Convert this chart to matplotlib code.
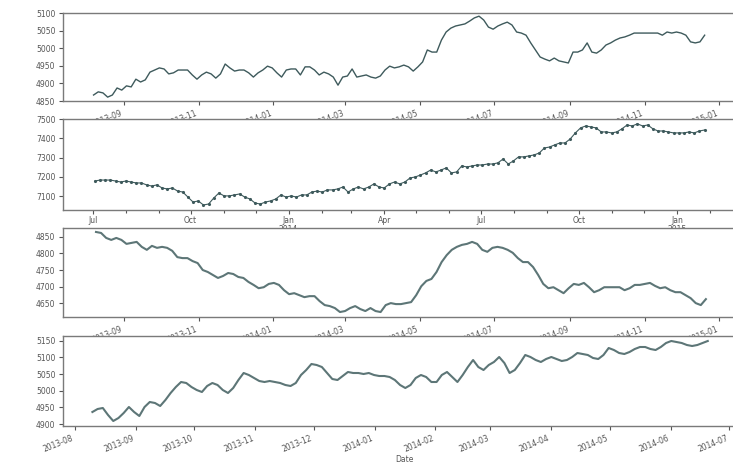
import numpy as np
import pandas as pd
import matplotlib
matplotlib.use("Agg")
import matplotlib.pyplot as plt
import matplotlib.dates as mdates
from matplotlib.ticker import FuncFormatter, MultipleLocator

# ---- series 1: daily index level ----
s1_start, s1_end = "2013-08-07", "2014-12-20"
s1_values = [
    4867, 4876, 4873, 4861, 4867, 4887, 4881, 4893, 4890, 4912,
    4904, 4910, 4932, 4938, 4944, 4941, 4927, 4930, 4938, 4938,
    4938, 4924, 4912, 4924, 4932, 4927, 4915, 4927, 4955, 4944,
    4935, 4938, 4938, 4930, 4918, 4930, 4938, 4949, 4944, 4930,
    4918, 4938, 4941, 4941, 4924, 4947, 4947, 4938, 4924, 4932,
    4927, 4918, 4895, 4918, 4921, 4941, 4918, 4921,
    4924, 4918, 4915, 4921, 4938, 4949, 4944, 4947, 4952, 4947,
    4935, 4947, 4961, 4995, 4989, 4989, 5023, 5046, 5057, 5063,
    5066, 5069, 5077, 5086, 5091, 5080, 5060, 5054, 5063, 5069,
    5074, 5066, 5046, 5043, 5037, 5015, 4995, 4975, 4969, 4964,
    4972, 4964, 4961, 4958, 4989, 4989, 4995, 5015, 4989, 4986,
    4995, 5009, 5015, 5023, 5029, 5032, 5037, 5043, 5043, 5043,
    5043, 5043, 5043, 5037, 5046, 5043, 5046, 5043, 5037, 5018,
    5015, 5018, 5037,
]

# ---- series 2: weekly level with markers ----
s2_start, s2_end = "2013-07-03", "2015-01-27"
s2_values = [
    7179, 7184, 7184, 7184, 7179, 7174, 7179, 7174, 7169, 7169,
    7159, 7153, 7159, 7143, 7138, 7143, 7127, 7122, 7096, 7070,
    7076, 7055, 7060, 7091, 7117, 7102, 7102, 7107, 7112, 7096,
    7086, 7065, 7060, 7070, 7076, 7086, 7107, 7096, 7102, 7096,
    7107, 7107, 7122, 7127, 7122, 7133, 7133, 7138, 7148, 7122,
    7138, 7148, 7138, 7148, 7164,
    7148, 7143, 7164, 7174, 7164, 7174, 7195, 7200, 7210, 7221,
    7236, 7226, 7236, 7247, 7221, 7226, 7257, 7252, 7257, 7262,
    7262, 7267, 7267, 7273, 7293, 7267, 7283, 7304, 7304, 7309,
    7314, 7324, 7350, 7355, 7366, 7376, 7376, 7397, 7428, 7454,
    7464, 7459, 7454, 7433, 7433, 7428, 7433, 7449, 7469, 7464,
    7475, 7464, 7469, 7449, 7438, 7438, 7433, 7428, 7428, 7428,
    7433, 7428, 7438, 7443,
]

# ---- series 3: smoothed level ----
s3_start, s3_end = "2013-08-09", "2014-12-21"
s3_values = [
    4865, 4862, 4847, 4841, 4847, 4841, 4829, 4832, 4835, 4820,
    4811, 4823, 4817, 4820, 4817, 4808, 4789, 4786, 4786, 4777,
    4771, 4750, 4744, 4735, 4726, 4732, 4741, 4738, 4729, 4726,
    4714, 4705, 4695, 4698, 4708, 4711, 4705, 4689, 4677, 4680,
    4674, 4668, 4671, 4671, 4656, 4644, 4641, 4635, 4623, 4626,
    4635, 4641, 4632, 4626,
    4635, 4626, 4623, 4644, 4650, 4647, 4647, 4650, 4653, 4674,
    4701, 4717, 4723, 4744, 4774, 4795, 4811, 4820, 4826, 4829,
    4835, 4829, 4811, 4805, 4817, 4820, 4817, 4811, 4802, 4786,
    4774, 4774, 4759, 4735, 4708, 4695, 4698, 4689, 4680, 4695,
    4708, 4705, 4711, 4698, 4683, 4689, 4698, 4698, 4698, 4698,
    4689, 4695, 4705, 4705, 4708, 4711, 4702, 4695, 4698, 4689,
    4683, 4683, 4674, 4665, 4650, 4644, 4662,
]

# ---- series 4: level over one year ----
s4_start, s4_end = "2013-08-10", "2014-06-20"
s4_values = [
    4936, 4945, 4948, 4927, 4909, 4918, 4933, 4951, 4936, 4924,
    4951, 4966, 4963, 4954, 4972, 4993, 5011, 5026, 5023, 5011,
    5002, 4996, 5014, 5023, 5017, 5002, 4993, 5008, 5032, 5053,
    5047, 5038, 5029, 5026, 5029, 5026, 5023, 5017, 5014, 5023,
    5047, 5062, 5080, 5077, 5071, 5053, 5035, 5032, 5044, 5056,
    5053, 5053, 5050,
    5053, 5047, 5044, 5044, 5041, 5032, 5017, 5008, 5017, 5038,
    5047, 5041, 5026, 5026, 5047, 5056, 5041, 5026, 5047, 5071,
    5092, 5071, 5062, 5077, 5086, 5101, 5083, 5053, 5062, 5083,
    5107, 5101, 5092, 5086, 5095, 5101, 5095, 5089, 5092, 5101,
    5113, 5110, 5107, 5098, 5095, 5107, 5128, 5122, 5113, 5110,
    5116, 5125, 5131, 5131, 5125, 5122, 5131, 5143, 5149, 5146,
    5143, 5137, 5134, 5137, 5143, 5149,
]


def dated(start, end, values):
    idx = pd.date_range(start, end, periods=len(values))
    return pd.Series(values, index=idx)


s1 = dated(s1_start, s1_end, s1_values)
s2 = dated(s2_start, s2_end, s2_values)
s3 = dated(s3_start, s3_end, s3_values)
s4 = dated(s4_start, s4_end, s4_values)

W_PX, H_PX = 733, 465
fig = plt.figure(figsize=(W_PX / 100, H_PX / 100), dpi=100)
fig.patch.set_facecolor("white")

LEFT, RIGHT = 63, 745
LABEL_ROT = 22


def add_panel(top, bottom):
    ax = fig.add_axes([LEFT / W_PX, 1 - bottom / H_PX,
                       (RIGHT - LEFT) / W_PX, (bottom - top) / H_PX])
    ax.set_facecolor("white")
    for sp in ax.spines.values():
        sp.set_color("#7a7a7a")
        sp.set_linewidth(1.0)
    ax.tick_params(axis="both", which="both", labelsize=5.5,
                   colors="#555555", length=3, width=0.8, pad=2.5)
    ax.tick_params(axis="x", which="minor", length=2)
    return ax


line_col = "#3e5a5c"
soft_col = "#5d7677"

# panel 1
ax1 = add_panel(13, 101)
ax1.plot(s1.index, s1.values, color=line_col, lw=1.0)
ax1.set_ylim(4850, 5100)
ax1.yaxis.set_major_locator(MultipleLocator(50))
ax1.set_xlim(pd.Timestamp("2013-07-13"), pd.Timestamp("2015-01-22"))
ax1.xaxis.set_major_locator(mdates.MonthLocator(bymonth=[1, 3, 5, 7, 9, 11]))
ax1.xaxis.set_major_formatter(mdates.DateFormatter("%Y-%m"))
plt.setp(ax1.get_xticklabels(), rotation=LABEL_ROT, ha="right")

# panel 2
ax2 = add_panel(119, 210)
ax2.plot(s2.index, s2.values, color=line_col, lw=0.8,
         marker=".", markersize=2.5)
ax2.set_ylim(7029, 7500)
ax2.yaxis.set_major_locator(MultipleLocator(100))
ax2.set_xlim(pd.Timestamp("2013-06-03"), pd.Timestamp("2015-03-06"))
ax2.xaxis.set_major_locator(mdates.MonthLocator(bymonth=[1, 4, 7, 10]))
ax2.xaxis.set_minor_locator(mdates.MonthLocator())
ax2.tick_params(axis="x", which="major", pad=1.5)


def quarter_label(x, pos):
    d = mdates.num2date(x)
    return d.strftime("%b") + ("\n%d" % d.year if d.month == 1 else "")


ax2.xaxis.set_major_formatter(FuncFormatter(quarter_label))
for t in ax2.get_xticklabels():
    t.set_linespacing(0.9)

# panel 3
ax3 = add_panel(228, 317)
ax3.plot(s3.index, s3.values, color=soft_col, lw=1.5)
ax3.set_ylim(4608, 4877)
ax3.yaxis.set_major_locator(MultipleLocator(50))
ax3.set_xlim(pd.Timestamp("2013-07-13"), pd.Timestamp("2015-01-22"))
ax3.xaxis.set_major_locator(mdates.MonthLocator(bymonth=[1, 3, 5, 7, 9, 11]))
ax3.xaxis.set_major_formatter(mdates.DateFormatter("%Y-%m"))
plt.setp(ax3.get_xticklabels(), rotation=LABEL_ROT, ha="right")

# panel 4
ax4 = add_panel(336, 426)
ax4.plot(s4.index, s4.values, color=soft_col, lw=1.5)
ax4.set_ylim(4894, 5164)
ax4.yaxis.set_major_locator(MultipleLocator(50))
ax4.set_xlim(pd.Timestamp("2013-07-26"), pd.Timestamp("2014-07-09"))
ax4.xaxis.set_major_locator(mdates.MonthLocator())
ax4.xaxis.set_major_formatter(mdates.DateFormatter("%Y-%m"))
plt.setp(ax4.get_xticklabels(), rotation=LABEL_ROT, ha="right")
ax4.set_xlabel("Date", fontsize=5.5, color="#555555", labelpad=0.5)

fig.savefig("out.png", dpi=100, facecolor="white")
